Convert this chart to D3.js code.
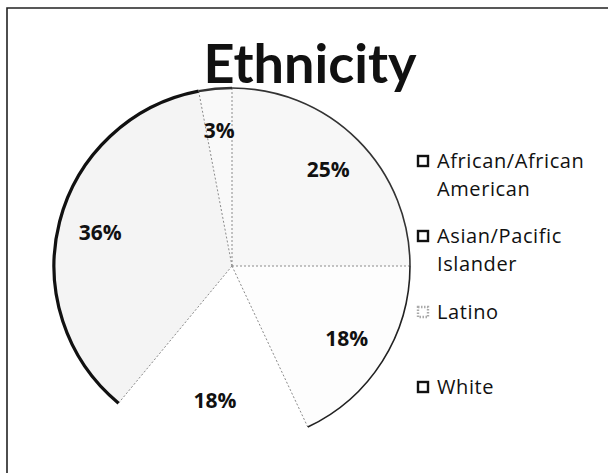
<!DOCTYPE html>
<html><head><meta charset="utf-8">
<script src="https://cdn.jsdelivr.net/npm/d3@7"></script>
<style>body{margin:0;background:#fff}svg{display:block}</style>
</head><body>
<svg id="c" width="608" height="473"></svg>
<script>
const title = "Ethnicity";
const categories = ["African/African American", "Asian/Pacific Islander", "Latino", "White", "Other"];
const legendLines = [["African/African", "American"], ["Asian/Pacific", "Islander"], ["Latino"], ["White"]];
const values = [25, 18, 18, 36, 3];
const labels = ["25%", "18%", "18%", "36%", "3%"];

const fills = ["#f7f7f7", "#fdfdfd", "#ffffff", "#f4f4f4", "#f9f9f9"];
const rimColor = ["#333", "#222", "none", "#111", "#333"];
const rimWidth = [1.6, 1.6, 0, 3.2, 2.4];

const svg = d3.select("#c");
svg.append("path").attr("d", "M7,473 L7,8 L608,8").attr("fill", "none").attr("stroke", "#222").attr("stroke-width", 1.6);

svg.append("text").attr("x", 310).attr("y", 83).attr("text-anchor", "middle")
  .attr("font-family", "Lato, 'Open Sans', sans-serif").attr("font-weight", "bold")
  .attr("font-size", 54).attr("fill", "#111").text(title);

const cx = 232, cy = 266, R = 178;
const g = svg.append("g").attr("transform", `translate(${cx},${cy})`);
const pie = d3.pie().sort(null).value(d => d)(values);
const arc = d3.arc().innerRadius(0).outerRadius(R);

g.selectAll("path.slice").data(pie).join("path").attr("class", "slice")
  .attr("d", arc).attr("fill", (d, i) => fills[i]).attr("stroke", "none");

g.selectAll("line.edge").data(pie).join("line").attr("class", "edge")
  .attr("x1", 0).attr("y1", 0)
  .attr("x2", d => R * Math.sin(d.startAngle)).attr("y2", d => -R * Math.cos(d.startAngle))
  .attr("stroke", "#8a8a8a").attr("stroke-width", 1).attr("stroke-dasharray", "2,2");

g.selectAll("path.rim").data(pie).join("path").attr("class", "rim")
  .attr("d", d => d3.arc().innerRadius(R).outerRadius(R)(d))
  .attr("fill", "none").attr("stroke", (d, i) => rimColor[i]).attr("stroke-width", (d, i) => rimWidth[i]);

g.selectAll("text.lbl").data(pie).join("text").attr("class", "lbl")
  .attr("transform", d => { const c = d3.arc().innerRadius(136).outerRadius(136).centroid(d); return `translate(${c})`; })
  .attr("text-anchor", "middle").attr("dy", "0.35em")
  .attr("font-family", "'Open Sans', Lato, sans-serif").attr("font-weight", "bold")
  .attr("font-size", 21).attr("fill", "#111").text((d, i) => labels[i]);

const legY = [161, 236, 312, 387];
const lg = svg.append("g");
legendLines.forEach((lines, i) => {
  lg.append("rect").attr("x", 418).attr("y", legY[i] - 5).attr("width", 10).attr("height", 10)
    .attr("fill", "#fff").attr("stroke", i === 2 ? "#aaa" : "#111").attr("stroke-width", 2.4)
    .attr("stroke-dasharray", i === 2 ? "1.5,1.5" : null);
  lines.forEach((t, j) => {
    lg.append("text").attr("x", 437).attr("y", legY[i] + j * 28).attr("dy", "0.35em")
      .attr("font-family", "'Open Sans', Lato, sans-serif").attr("font-size", 20)
      .attr("letter-spacing", 0.6).attr("fill", "#111").text(t);
  });
});
</script>
</body></html>
